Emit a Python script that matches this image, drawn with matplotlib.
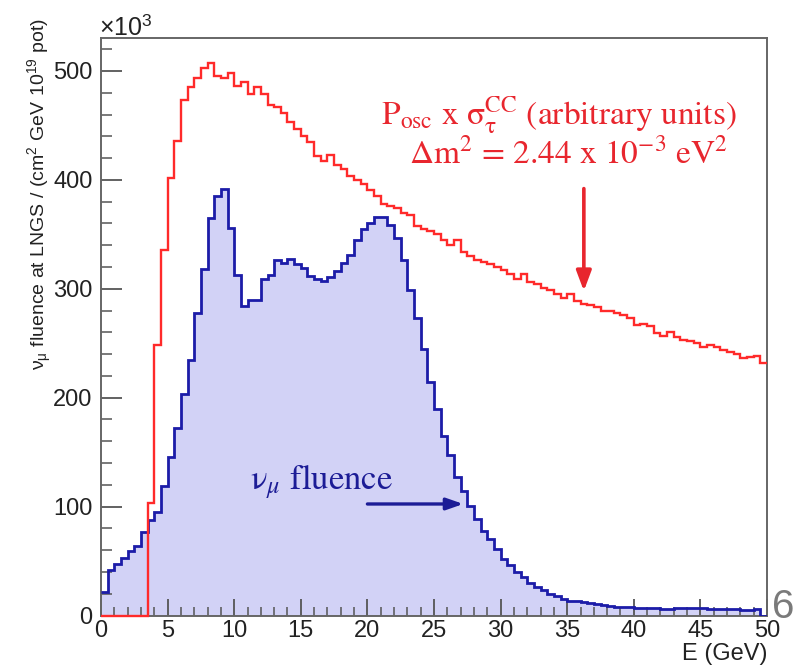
import numpy as np
import matplotlib
matplotlib.use("Agg")
import matplotlib.pyplot as plt
from matplotlib.ticker import MultipleLocator

plt.rcParams['mathtext.fontset'] = 'stix'

# ---- data (100 bins of 0.5 GeV, 0-50 GeV), values in units of 10^3 ----
bin_edges = np.linspace(0, 50, 101)

numu_fluence = [
    22, 42, 47, 53, 59, 64, 77, 88, 95, 119,
    146, 172, 203, 235, 278, 318, 365, 385, 392, 356,
    313, 284, 290, 290, 309, 313, 326, 324, 327, 323,
    319, 312, 309, 307, 311, 316, 324, 331, 345, 355,
    360, 366, 366, 359, 347, 326, 299, 273, 245, 214,
    190, 165, 147, 127, 114, 101, 89, 78, 70, 61,
    52, 46, 40, 35, 30, 26, 23, 20, 18, 15.5,
    13.5, 13, 12, 11.5, 10.5, 10, 8.5, 8, 8, 7.8,
    6.8, 6.6, 6.5, 6.8, 6.4, 6.2, 7, 6.8, 6.5, 7,
    6.6, 6.2, 5.8, 5.7, 5.6, 5.8, 5.5, 5.4, 5.6, 0,
]

posc_sigma = [
    0, 0, 0, 0, 0, 0, 0, 103, 248, 336,
    402, 436, 473, 485, 494, 503, 507, 495, 494, 498,
    486, 490, 479, 485, 479, 469, 467, 461, 453, 447,
    440, 435, 422, 417, 423, 414, 410, 404, 400, 396,
    391, 385, 378, 376, 374, 370, 368, 358, 355, 353,
    350, 345, 340, 345, 334, 330, 326, 325, 323, 320,
    317, 314, 309, 314, 306, 304, 301, 299, 295, 292,
    295, 289, 286, 285, 283, 280, 280, 278, 276, 273,
    267, 268, 266, 259, 257, 260, 256, 253, 252, 250,
    247, 248, 247, 244, 242, 240, 236, 237, 238, 232,
]

x_ticks = [0, 5, 10, 15, 20, 25, 30, 35, 40, 45, 50]
y_ticks = [0, 100, 200, 300, 400, 500]

# ---- figure ----
fig = plt.figure(figsize=(7.94, 6.66), dpi=100)
ax = fig.add_axes([101/794, 50.5/666, 666/794, 577.5/666])

ax.stairs(numu_fluence, bin_edges, fill=True, color='#d2d2f6', baseline=0, zorder=1)
ax.stairs(numu_fluence, bin_edges, baseline=None, color='#1c1ca8', lw=2.0, zorder=3)
ax.stairs(posc_sigma, bin_edges, baseline=None, color='#ff2a2a', lw=1.7, zorder=4,
          clip_on=False)

ax.set_xlim(0, 50)
ax.set_ylim(0, 530.3)

ax.set_xticks(x_ticks)
ax.set_yticks(y_ticks)
ax.xaxis.set_minor_locator(MultipleLocator(1))
ax.yaxis.set_minor_locator(MultipleLocator(20))

tick_font = dict(family='Liberation Sans', size=17)
ax.set_xticklabels([str(t) for t in x_ticks], fontdict=tick_font, color='#222222')
ax.set_yticklabels([str(t) for t in y_ticks], fontdict=tick_font, color='#222222')

ax.tick_params(axis='both', which='both', direction='in', color='#555555',
               top=False, right=False)
ax.tick_params(axis='y', which='major', length=15, width=1.3, pad=6)
ax.tick_params(axis='y', which='minor', length=8, width=1.1)
ax.tick_params(axis='x', which='major', length=12, width=1.3, pad=3)
ax.tick_params(axis='x', which='minor', length=6.5, width=1.1)
for s in ax.spines.values():
    s.set_color('#666666')
    s.set_linewidth(1.4)

# axis titles
fig.text(40/794, 1 - 18/666,
         r'$\mathregular{\nu_{\mu}}$ fluence at LNGS / (cm$^{\mathregular{2}}$ GeV 10$^{\mathregular{19}}$ pot)',
         rotation=90, ha='center', va='top', family='Liberation Sans', size=14,
         color='#222222')
fig.text(767/794, 6/666, 'E (GeV)', ha='right', va='baseline',
         family='Liberation Sans', size=17, color='#222222')
fig.text(99/794, 1 - 36/666, r'$\mathregular{\times}$10$^{\mathregular{3}}$', ha='left',
         va='baseline', family='Liberation Sans', size=18, color='#222222')

# annotations
red = '#e8262e'
blue = '#1c1c96'
ax.text(34.4, 459.5,
        r'P$_{\mathrm{osc}}$ x $\mathrm{σ}_{\mathrm{τ}}^{\mathrm{CC}}$ (arbitrary units)',
        ha='center', va='center', family='STIXGeneral', size=24, color=red)
ax.text(35.1, 424.0, r'$\Delta$m$^{\mathrm{2}}$ = 2.44 x 10$^{\mathrm{-3}}$ eV$^{\mathrm{2}}$',
        ha='center', va='center', family='STIXGeneral', size=24, color=red)
ax.annotate('', xy=(36.25, 298), xytext=(36.25, 392),
            arrowprops=dict(arrowstyle='-|>,head_width=0.45,head_length=1.2',
                            color=red, lw=2.6, shrinkA=0, shrinkB=0))

ax.text(11.2, 123, r'$\mathrm{ν}_{\mu}$ fluence', ha='left', va='center',
        family='STIXGeneral', size=25, color=blue)
ax.annotate('', xy=(27.2, 102.4), xytext=(20.0, 102.4),
            arrowprops=dict(arrowstyle='-|>,head_width=0.35,head_length=1.0',
                            color=blue, lw=2.4, shrinkA=0, shrinkB=0))

# slide page number
fig.text(772/794, 1 - 618/666, '6', ha='left', va='baseline',
         family='Liberation Sans', size=29, color='#7a7a7a')

fig.savefig('out.png', dpi=100)
